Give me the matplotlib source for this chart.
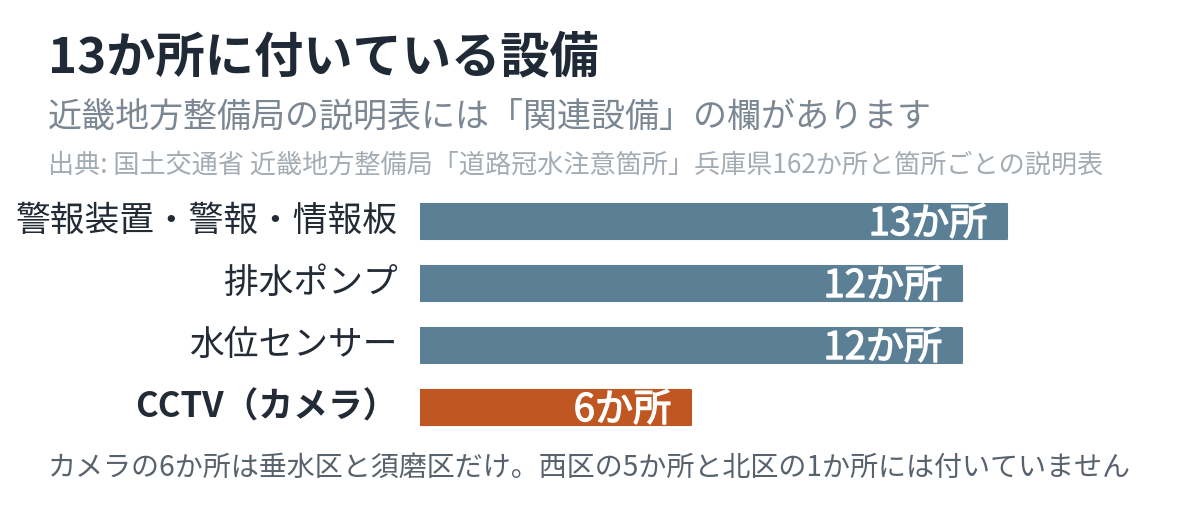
import matplotlib
matplotlib.use("Agg")
import matplotlib.pyplot as plt
import matplotlib.patheffects as pe

plt.rcParams["font.family"] = ["Noto Sans CJK JP", "DejaVu Sans"]

# --- data ---
categories = ["警報装置・警報・情報板", "排水ポンプ", "水位センサー", "CCTV（カメラ）"]
counts = [13, 12, 12, 6]
highlight = [False, False, False, True]

TITLE = "13か所に付いている設備"
SUBTITLE = "近畿地方整備局の説明表には「関連設備」の欄があります"
SOURCE = "出典: 国土交通省 近畿地方整備局「道路冠水注意箇所」兵庫県162か所と箇所ごとの説明表"
NOTE = "カメラの6か所は垂水区と須磨区だけ。西区の5か所と北区の1か所には付いていません"

BAR_COLOR = "#5b7f95"
HI_COLOR = "#c05621"

W, H = 1200, 514
fig = plt.figure(figsize=(W / 100, H / 100), dpi=100)


def fy(px):
    return 1 - px / H


# bar area: zero at x=420px, ~45.15 px per unit
ax = fig.add_axes([420 / W, fy(438.5), 780 / W, 248 / H])
ax.set_xlim(0, 780 / 45.15)
ax.set_ylim(len(categories) - 0.5, -0.5)
ax.axis("off")

ypos = list(range(len(categories)))
colors = [HI_COLOR if h else BAR_COLOR for h in highlight]
bars = ax.barh(ypos, counts, height=0.58, color=colors, edgecolor=colors,
               linewidth=1.5)
for b in bars:
    b.set_joinstyle("round")

# white stroke gives the value labels a medium weight
medium = [pe.withStroke(linewidth=0.9, foreground="white")]
for y, v, cat, h in zip(ypos, counts, categories, highlight):
    ax.annotate(f"{v}か所", xy=(v, y), xytext=(-14, -2.2), textcoords="offset points",
                ha="right", va="center", color="white", fontsize=27.5,
                path_effects=medium)
    ax.annotate(cat, xy=(0, y), xytext=(-16, 0), textcoords="offset points",
                ha="right", va="center", color="#222b36", fontsize=25,
                fontweight="bold" if h else "normal")

fig.text(48 / W, fy(58), TITLE, fontsize=35.5, fontweight="bold", color="#1f2a36",
         va="center", ha="left")
fig.text(48 / W, fy(117), SUBTITLE, fontsize=24.5, color="#7b8793",
         va="center", ha="left")
fig.text(48 / W, fy(165), SOURCE, fontsize=18.8, color="#a3abb3",
         va="center", ha="left")
fig.text(48 / W, fy(468), NOTE, fontsize=20.2, color="#58626c",
         va="center", ha="left")

fig.savefig("out.png", dpi=100, facecolor="white")
